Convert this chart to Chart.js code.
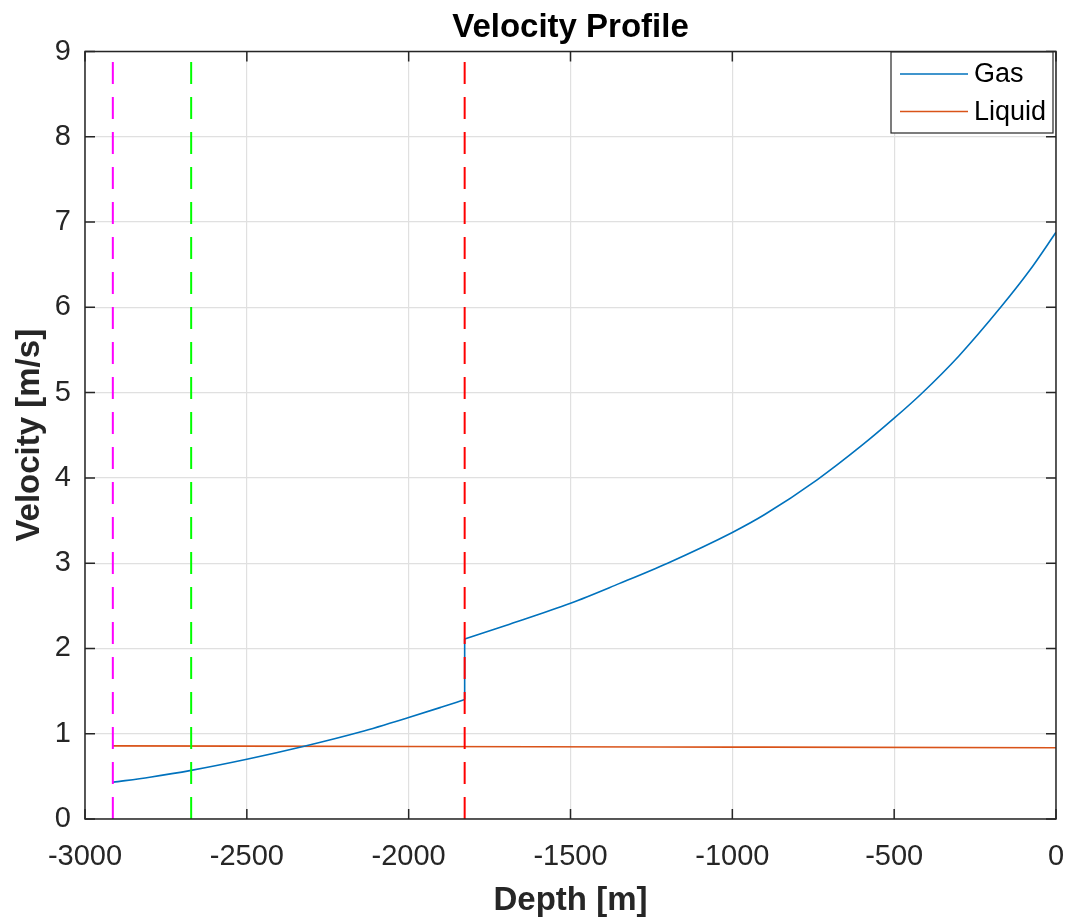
<!DOCTYPE html>
<html><head><meta charset="utf-8">
<script src="https://cdn.jsdelivr.net/npm/chart.js@4.4.1/dist/chart.umd.min.js"></script>
<style>html,body{margin:0;padding:0;background:#fff;}canvas{display:block;}</style>
</head><body>
<canvas id="c" width="1067" height="920"></canvas>
<script>
// ---- data ----
// gas velocity, below the transition (deep section)
const depthGasLow = [-2914, -2800, -2672, -2500, -2326, -2150, -2000, -1900, -1827];
const velGasLow   = [0.43, 0.49, 0.57, 0.70, 0.85, 1.02, 1.19, 1.31, 1.40];
// gas velocity, above the transition
const depthGasHigh = [-1827, -1700, -1500, -1350, -1200, -1000, -900, -737, -600, -500, -415, -300, -171, -80, 0];
const velGasHigh   = [2.11, 2.27, 2.53, 2.76, 3.00, 3.36, 3.57, 3.98, 4.38, 4.70, 4.99, 5.43, 6.00, 6.44, 6.88];
const depthLiq = [-2914, -2000, -1000, 0];
const velLiq   = [0.857, 0.850, 0.843, 0.835];
const markerDepths = [-2914, -2672, -1827];
const seriesNames = ['Gas', 'Liquid'];
const xTickValues = [-3000, -2500, -2000, -1500, -1000, -500, 0];
const yTickValues = [0, 1, 2, 3, 4, 5, 6, 7, 8, 9];
const titleText = 'Velocity Profile';
const xLabel = 'Depth [m]';
const yLabel = 'Velocity [m/s]';

const FONT = '"Liberation Sans", Arial, Helvetica, sans-serif';
const GAS_C = '#0072BD', LIQ_C = '#D95319';
const markerColors = ['#FF00FF', '#00FF00', '#FF0000'];

const toXY = (xs, ys) => xs.map((x, i) => ({x: x, y: ys[i]}));
const lineStyle = {borderWidth: 1.6, pointRadius: 0, cubicInterpolationMode: 'monotone', order: 2};

const datasets = [
  Object.assign({label: seriesNames[0], data: toXY(depthGasLow, velGasLow), borderColor: GAS_C}, lineStyle),
  Object.assign({label: seriesNames[0] + ' jump', data: [
      {x: depthGasLow[depthGasLow.length - 1], y: velGasLow[velGasLow.length - 1]},
      {x: depthGasHigh[0], y: velGasHigh[0]}], borderColor: GAS_C}, lineStyle),
  Object.assign({label: seriesNames[0] + ' upper', data: toXY(depthGasHigh, velGasHigh), borderColor: GAS_C}, lineStyle),
  Object.assign({label: seriesNames[1], data: toXY(depthLiq, velLiq), borderColor: LIQ_C}, lineStyle)
];
markerDepths.forEach((d, i) => datasets.push({
  label: 'm' + i, data: [{x: d, y: yTickValues[0]}, {x: d, y: yTickValues[yTickValues.length - 1]}],
  borderColor: markerColors[i], borderWidth: 2, borderDash: [22, 13], pointRadius: 0, order: 1
}));

const framePlugin = {
  id: 'frame',
  afterDatasetsDraw(chart) {
    const {ctx, chartArea: a, scales: {x, y}} = chart;
    ctx.save();
    ctx.strokeStyle = '#262626';
    ctx.lineWidth = 1.5;
    ctx.beginPath();
    xTickValues.forEach(v => {
      const px = x.getPixelForValue(v);
      ctx.moveTo(px, a.bottom); ctx.lineTo(px, a.bottom - 10);
      ctx.moveTo(px, a.top); ctx.lineTo(px, a.top + 10);
    });
    yTickValues.forEach(v => {
      const py = y.getPixelForValue(v);
      ctx.moveTo(a.left, py); ctx.lineTo(a.left + 10, py);
      ctx.moveTo(a.right, py); ctx.lineTo(a.right - 10, py);
    });
    ctx.stroke();
    ctx.strokeRect(a.left, a.top, a.right - a.left, a.bottom - a.top);

    // legend
    const lw = 162, lh = 81;
    const lx = a.right - 3 - lw, ly = a.top + 0.5;
    ctx.fillStyle = '#fff';
    ctx.fillRect(lx, ly, lw, lh);
    ctx.strokeStyle = '#262626';
    ctx.lineWidth = 1.2;
    ctx.strokeRect(lx, ly, lw, lh);
    const cols = [GAS_C, LIQ_C];
    const rows = [ly + 22, ly + 59.5];
    ctx.font = '27px ' + FONT;
    ctx.textBaseline = 'middle';
    ctx.textAlign = 'left';
    seriesNames.forEach((n, i) => {
      ctx.strokeStyle = cols[i]; ctx.lineWidth = 1.6;
      ctx.beginPath(); ctx.moveTo(lx + 9, rows[i]); ctx.lineTo(lx + 77, rows[i]); ctx.stroke();
      ctx.fillStyle = '#000';
      ctx.fillText(n, lx + 83, rows[i] + 1);
    });

    // titles
    const cx = (a.left + a.right) / 2;
    ctx.fillStyle = '#000';
    ctx.font = 'bold 33px ' + FONT;
    ctx.textAlign = 'center';
    ctx.textBaseline = 'alphabetic';
    ctx.fillText(titleText, cx, 37);
    ctx.fillStyle = '#262626';
    ctx.fillText(xLabel, cx, 910);
    ctx.save();
    ctx.translate(39, (a.top + a.bottom) / 2);
    ctx.rotate(-Math.PI / 2);
    ctx.fillText(yLabel, 0, 0);
    ctx.restore();
    ctx.restore();
  }
};

new Chart(document.getElementById('c'), {
  type: 'line',
  data: {datasets: datasets},
  options: {
    responsive: false,
    animation: false,
    layout: {padding: {top: 51.5, right: 11, left: 0, bottom: 0}},
    plugins: {legend: {display: false}, title: {display: false}, tooltip: {enabled: false}},
    scales: {
      x: {
        type: 'linear', min: -3000, max: 0,
        afterBuildTicks: s => { s.ticks = xTickValues.map(v => ({value: v})); },
        afterFit: s => { s.height = 101; s.paddingLeft = 0; s.paddingRight = 0; },
        grid: {color: '#e0e0e0', lineWidth: 1.2, drawTicks: false},
        border: {display: false},
        ticks: {padding: 21, color: '#262626', font: {family: FONT, size: 29}, maxRotation: 0, callback: v => String(v)}
      },
      y: {
        type: 'linear', min: 0, max: 9,
        afterBuildTicks: s => { s.ticks = yTickValues.map(v => ({value: v})); },
        afterFit: s => { s.width = 85; s.paddingTop = 0; s.paddingBottom = 0; },
        grid: {color: '#e0e0e0', lineWidth: 1.2, drawTicks: false},
        border: {display: false},
        ticks: {padding: 14, color: '#262626', font: {family: FONT, size: 29}, callback: v => String(v)}
      }
    }
  },
  plugins: [framePlugin]
});
</script>
</body></html>
